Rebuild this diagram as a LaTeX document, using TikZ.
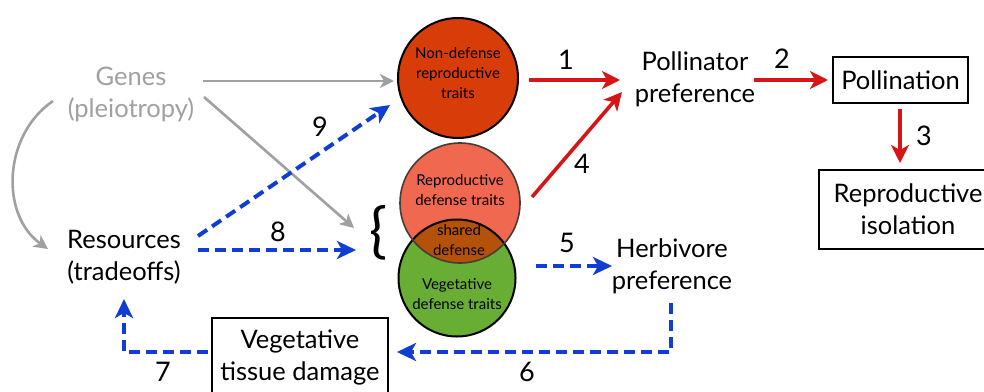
\documentclass[tikz,border=0pt]{standalone}
\usepackage{fontspec}
\setmainfont{Lato}
\usetikzlibrary{arrows.meta}
\definecolor{redar}{RGB}{214,22,22}
\definecolor{bluear}{RGB}{16,62,210}
\definecolor{grayar}{RGB}{160,160,160}
\definecolor{ndfill}{RGB}{216,60,8}
\definecolor{rdfill}{RGB}{240,104,80}
\definecolor{shfill}{RGB}{180,82,10}
\definecolor{vgfill}{RGB}{104,174,52}
\definecolor{rdborder}{RGB}{70,60,55}
\begin{document}
\begin{tikzpicture}[x=1pt,y=-1pt,
  big/.style={font=\fontsize{25.5}{32}\selectfont, align=center, inner sep=0pt},
  small/.style={font=\fontsize{15}{20}\selectfont, align=center, inner sep=0pt},
  numlabel/.style={font=\fontsize{27}{30}\selectfont, inner sep=0pt},
  boxed/.style={draw, line width=2.2pt, inner sep=0pt},
  traitcircle/.style={circle, inner sep=0pt, line width=2pt},
  redarrow/.style={draw=redar, line width=3.6pt, -{Stealth[length=18pt,width=18pt,inset=5pt]}},
  bluearrow/.style={draw=bluear, line width=4pt, dash pattern=on 11pt off 6pt, -{Stealth[length=19pt,width=18pt,inset=5pt]}},
  grayarrow/.style={draw=grayar, line width=2.6pt, -{Stealth[length=14pt,width=14pt,inset=4pt]}}
]
\useasboundingbox (0,0) rectangle (984,391);

% circles
\node[traitcircle, draw=black, fill=ndfill, minimum size=120pt] (nd) at (458,78) {};
\node[small] (ndtext) at (458,73) {Non-defense\\reproductive\\traits};

\node[traitcircle, fill=rdfill, minimum size=120pt] (rd) at (460,203) {};
\node[traitcircle, fill=vgfill, minimum size=117pt] (vg) at (457,278) {};
\begin{scope}
  \clip (460,203) circle[radius=60pt];
  \fill[shfill] (457,278) circle[radius=58.5pt];
\end{scope}
\draw[black, line width=2pt] (457,278) circle[radius=58.5pt];
\draw[rdborder, line width=1.6pt] (460,203) circle[radius=60pt];
\node[small] (rdtext) at (460,190) {Reproductive\\defense traits};
\node[small] (shtext) at (459,240) {shared\\defense};
\node[small] (vgtext) at (457,294) {Vegetative\\defense traits};

% brace
\node[font=\fontsize{60}{60}\selectfont, inner sep=0pt] (brace) at (379,233) {\{};

% text nodes
\node[big, text=grayar] (genes) at (131,94) {Genes\\(pleiotropy)};
\node[big] (res) at (124,257) {Resources\\(tradeoffs)};
\node[big] (poll) at (695,79) {Pollinator\\preference};
\node[big] (herb) at (672,266) {Herbivore\\preference};

% boxes
\node[big, boxed, minimum width=135pt, minimum height=46pt] (pollination) at (900.5,80) {Pollination};
\node[big, boxed, minimum width=178pt, minimum height=79pt] (repiso) at (908,209.5) {Reproductive\\isolation};
\node[big, boxed, minimum width=176pt, minimum height=78pt] (vtd) at (300,357) {Vegetative\\tissue damage};

% endpoint coordinates
\coordinate (g1s) at (203,81);
\coordinate (g1e) at (394,81);
\coordinate (g2s) at (204,97);
\coordinate (g2e) at (354,228);
\coordinate (gcs) at (53,101);
\coordinate (gce) at (48,249);
\coordinate (b9s) at (198,236);
\coordinate (b9e) at (390,105);
\coordinate (b8s) at (198,250);
\coordinate (b8e) at (356,250);
\coordinate (r1s) at (529,80);
\coordinate (r1e) at (620,80);
\coordinate (r2s) at (754,80);
\coordinate (r2e) at (828,80);
\coordinate (r3s) at (900,109);
\coordinate (r3e) at (900,163);
\coordinate (r4s) at (532,197);
\coordinate (r4e) at (622,92);
\coordinate (b5s) at (536,266);
\coordinate (b5e) at (612,266);
\coordinate (b6s) at (671,303);
\coordinate (b6c) at (671,352);
\coordinate (b6e) at (397,352);
\coordinate (b7s) at (208,352);
\coordinate (b7c) at (124,352);
\coordinate (b7e) at (124,299);

% gray arrows
\draw[grayarrow] (g1s) -- (g1e);
\draw[grayarrow] (g2s) -- (g2e);
\draw[grayarrow] (gcs) .. controls (3,135) and (0,215) .. (gce);

% red arrows
\draw[redarrow] (r1s) -- (r1e);
\draw[redarrow] (r2s) -- (r2e);
\draw[redarrow] (r3s) -- (r3e);
\draw[redarrow] (r4s) -- (r4e);

% blue arrows
\draw[bluearrow] (b9s) -- (b9e);
\draw[bluearrow] (b8s) -- (b8e);
\draw[bluearrow] (b5s) -- (b5e);
\draw[bluearrow] (b6s) -- (b6c) -- (b6e);
\draw[bluearrow] (b7s) -- (b7c) -- (b7e);

% number labels
\node[numlabel] (n1) at (566,60) {1};
\node[numlabel] (n2) at (782,59) {2};
\node[numlabel] (n3) at (924,136) {3};
\node[numlabel] (n4) at (582,164) {4};
\node[numlabel] (n5) at (567,243) {5};
\node[numlabel] (n6) at (527,372) {6};
\node[numlabel] (n7) at (163,372) {7};
\node[numlabel] (n8) at (278,232) {8};
\node[numlabel] (n9) at (320,127) {9};
\end{tikzpicture}
\end{document}
